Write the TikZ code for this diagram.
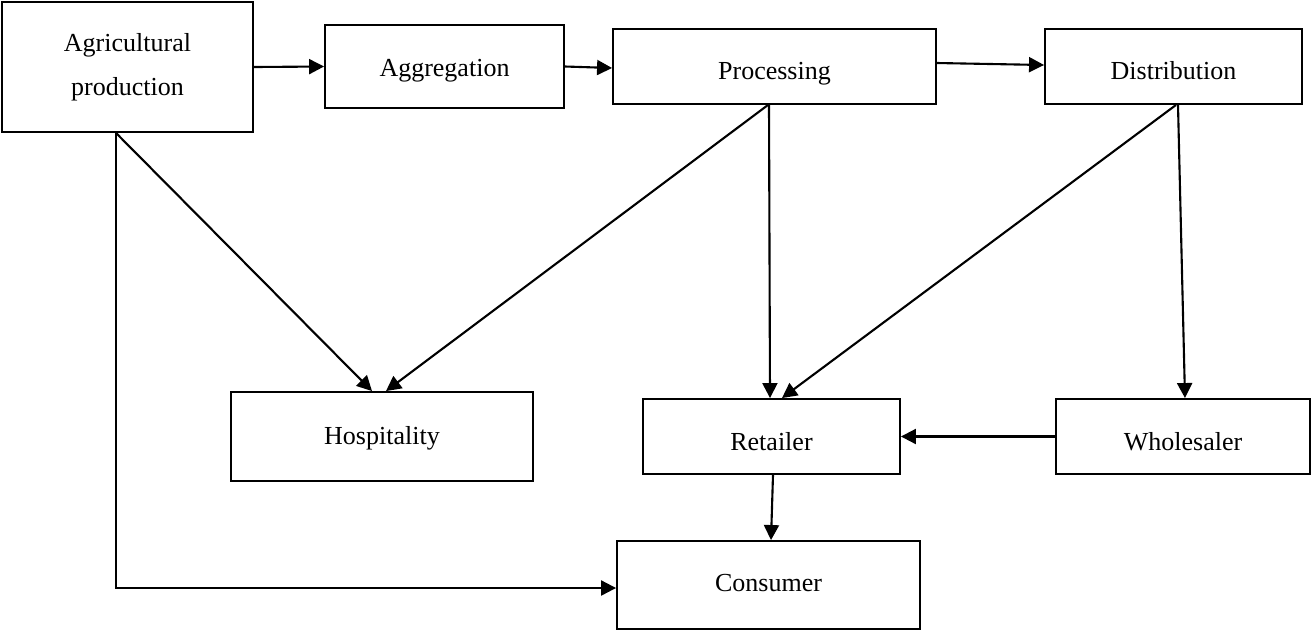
\documentclass[tikz,border=0pt]{standalone}
\usepackage{fontspec}
\setmainfont{Liberation Serif}
\usetikzlibrary{arrows.meta}

\tikzset{
	stage/.style={draw, line width=1.1pt, rectangle, inner sep=0pt, align=center,
		font=\fontsize{14.8}{25}\selectfont},
	low/.style={text height=#1, text depth=0cm},
	low/.default=.52cm,
	flow/.style={line width=1.2pt, -{Triangle[length=.3cm, width=.3cm]}}
}

\begin{document}
\begin{tikzpicture}[x=.02cm, y=-.02cm]
	\useasboundingbox (0,0) rectangle (1312,630);

	% TOP ROW
	\node[stage, minimum width=5.02cm, minimum height=2.6cm] (agri) at (127.5,67) {Agricultural\\production};
	\node[stage, low=.38cm, minimum width=4.78cm, minimum height=1.66cm] (aggr) at (444.5,66.5) {Aggregation};
	\node[stage, low, minimum width=6.46cm, minimum height=1.5cm] (proc) at (774.5,66.5) {Processing};
	\node[stage, low, minimum width=5.14cm, minimum height=1.5cm] (dist) at (1173.5,66.5) {Distribution};

	% MIDDLE ROW
	\node[stage, low=.3cm, minimum width=6.04cm, minimum height=1.78cm] (hosp) at (382,436.5) {Hospitality};
	\node[stage, low=.56cm, minimum width=5.14cm, minimum height=1.5cm] (ret) at (771.5,436.5) {Retailer};
	\node[stage, low=.56cm, minimum width=5.08cm, minimum height=1.5cm] (whole) at (1183,436.5) {Wholesaler};

	% BOTTOM
	\node[stage, low=.24cm, minimum width=6.06cm, minimum height=1.76cm] (cons) at (768.5,585) {Consumer};

	% ARROWS
	\draw[flow] (agri.east) -- (aggr.west);
	\draw[flow] (aggr.east) -- ([yshift=-.03cm]proc.west);
	\draw[flow] ([yshift=.07cm]proc.east) -- ([yshift=.03cm]dist.west);
	\draw[flow] ([xshift=-.23cm]agri.south) -- ([xshift=-.2cm]hosp.north);
	\draw[flow] ([xshift=-.13cm]proc.south) -- ([xshift=.08cm]hosp.north);
	\draw[flow] ([xshift=-.11cm]proc.south) -- ([xshift=-.03cm]ret.north);
	\draw[flow] ([xshift=.05cm]dist.south) -- ([xshift=.21cm]ret.north);
	\draw[flow] ([xshift=.09cm]dist.south) -- ([xshift=.04cm]whole.north);
	\draw[flow] (whole.west) -- (ret.east);
	\draw[flow] ([xshift=.03cm]ret.south) -- ([xshift=.05cm]cons.north);
	\draw[flow] ([xshift=-.23cm]agri.south) |- ([yshift=-.06cm]cons.west);
\end{tikzpicture}
\end{document}
